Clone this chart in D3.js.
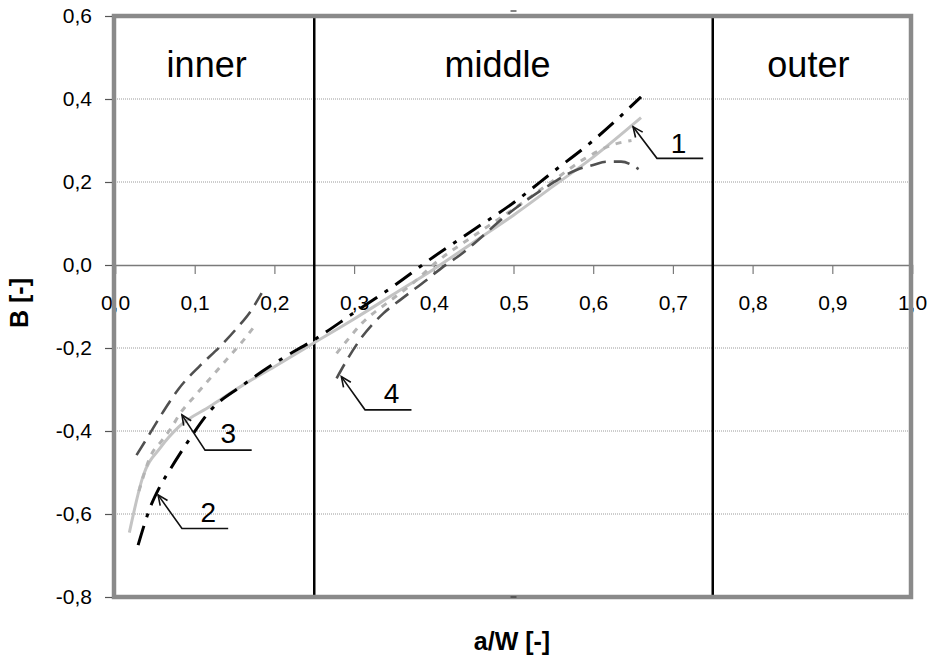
<!DOCTYPE html>
<html><head><meta charset="utf-8">
<script src="https://cdn.jsdelivr.net/npm/d3@7"></script>
<style>
body{margin:0;background:#fff;}
text{font-family:Arial,"Liberation Sans",sans-serif;}
</style>
</head><body>
<svg id="c" width="929" height="660"></svg>
<script>
// ---- data ----
const xTicks = [0,0.1,0.2,0.3,0.4,0.5,0.6,0.7,0.8,0.9,1.0];
const yTicks = [-0.8,-0.6,-0.4,-0.2,0,0.2,0.4,0.6];
const regionNames = ["inner","middle","outer"];
const regionLabelX = [0.115,0.48,0.87];
const regionBounds = [0.25,0.75];

// series 1: light gray solid
const s1x = [0.018,0.035,0.057,0.08,0.12,0.16,0.2,0.245,0.3,0.35,0.4,0.45,0.5,0.55,0.6,0.66];
const s1y = [-0.645,-0.51,-0.44,-0.39,-0.34,-0.29,-0.245,-0.193,-0.13,-0.07,-0.01,0.055,0.12,0.19,0.26,0.355];
// series 2: black dash-dot
const s2x = [0.029,0.045,0.056,0.07,0.09,0.12,0.16,0.21,0.25,0.3,0.35,0.4,0.45,0.5,0.55,0.6,0.66];
const s2y = [-0.675,-0.58,-0.535,-0.49,-0.43,-0.35,-0.29,-0.225,-0.18,-0.115,-0.05,0.02,0.085,0.15,0.225,0.3,0.405];
// series 3: light gray short dash (gap between inner and middle)
const s3x = [0.03,0.046,0.058,0.07,0.082,0.1,0.12,0.14,0.16,0.178,0.23,0.278,0.295,0.31,0.341,0.37,0.404,0.45,0.5,0.554,0.59,0.625,0.648];
const s3y = [-0.545,-0.455,-0.425,-0.394,-0.357,-0.316,-0.272,-0.228,-0.184,-0.14,null,-0.213,-0.173,-0.14,-0.092,-0.05,0.008,0.07,0.135,0.209,0.257,0.29,0.30];
// series 4: dark gray long dash (gap between inner and middle)
const s4x = [0.027,0.04,0.06,0.08,0.107,0.132,0.153,0.17,0.184,0.23,0.278,0.291,0.307,0.337,0.358,0.391,0.412,0.43,0.5,0.542,0.579,0.6,0.617,0.635,0.657];
const s4y = [-0.458,-0.418,-0.355,-0.298,-0.242,-0.196,-0.152,-0.112,-0.068,null,-0.273,-0.229,-0.181,-0.116,-0.084,-0.036,-0.004,0.02,0.133,0.189,0.229,0.241,0.249,0.249,0.231];

// callouts (data coordinates)
const calloutText = ["1","2","3","4"];
const calloutTip = [[0.65,0.333],[0.054,-0.554],[0.084,-0.361],[0.284,-0.269]];
const calloutElbow = [[0.68,0.257],[0.084,-0.635],[0.113,-0.446],[0.3137,-0.349]];
const calloutEndX = [0.738,0.142,0.1715,0.372];
const calloutLabel = [[0.707,0.27],[0.117,-0.619],[0.142,-0.43],[0.347,-0.333]];

// ---- chart ----
const svg = d3.select("#c");
const x = d3.scaleLinear().domain([0,1]).range([115,912]);
const y = d3.scaleLinear().domain([-0.8,0.6]).range([597,16]);
const fmt = d3.formatLocale({decimal:",",thousands:" ",grouping:[3],currency:["",""],minus:"-"}).format(".1f");

// gridlines
svg.append("g").selectAll("line").data(yTicks.filter(v=>v!==0 && v!==0.6 && v!==-0.8)).join("line")
  .attr("x1",x(0)).attr("x2",x(1)).attr("y1",d=>y(d)).attr("y2",d=>y(d))
  .attr("stroke","#9a9a9a").attr("stroke-width",1).attr("stroke-dasharray","1,1");

// x axis at y=0
const xa = svg.append("g").attr("transform",`translate(0,${y(0)})`)
  .call(d3.axisBottom(x).tickValues(xTicks).tickSize(9).tickPadding(21).tickFormat(fmt));
xa.select(".domain").attr("stroke","#7a7a7a").attr("stroke-width",1.5);
xa.selectAll(".tick line").attr("stroke","#7a7a7a").attr("stroke-width",1.2);
xa.selectAll(".tick text").attr("font-size",21).attr("fill","#000").attr("font-family","Arial, Liberation Sans, sans-serif");

// region bounds
svg.append("g").selectAll("line").data(regionBounds).join("line")
  .attr("x1",d=>x(d)).attr("x2",d=>x(d)).attr("y1",y(0.6)).attr("y2",y(-0.8))
  .attr("stroke","#000").attr("stroke-width",2.5);

// region labels
svg.append("g").selectAll("text").data(regionNames).join("text")
  .attr("x",(d,i)=>x(regionLabelX[i])).attr("y",y(0.453))
  .attr("text-anchor","middle").attr("font-size",36).attr("fill","#000").text(d=>d);

// series
const zip = (xs,ys)=>xs.map((v,i)=>[v,ys[i]]);
const line = d3.line().defined(d=>d[1]!==null).x(d=>x(d[0])).y(d=>y(d[1])).curve(d3.curveMonotoneX);
const series = [
  {data:zip(s1x,s1y), color:"#c4c4c4", w:3, dash:null},
  {data:zip(s3x,s3y), color:"#b4b4b4", w:3, dash:"6,7"},
  {data:zip(s4x,s4y), color:"#505050", w:2.6, dash:"16,8"},
  {data:zip(s2x,s2y), color:"#000000", w:3, dash:"20,9,4,9"}
];
svg.append("g").selectAll("path").data(series).join("path")
  .attr("d",d=>line(d.data)).attr("fill","none")
  .attr("stroke",d=>d.color).attr("stroke-width",d=>d.w)
  .attr("stroke-dasharray",d=>d.dash);

// frame
svg.append("rect").attr("x",x(0)-1).attr("y",y(0.6)).attr("width",x(1)-x(0)).attr("height",y(-0.8)-y(0.6))
  .attr("fill","none").attr("stroke","#8a8a8a").attr("stroke-width",4.5);

// top/bottom small marks at 0.5
svg.append("g").selectAll("line").data([y(0.6)-5,y(-0.8)]).join("line")
  .attr("x1",x(0.5)-3).attr("x2",x(0.5)+3).attr("y1",d=>d).attr("y2",d=>d)
  .attr("stroke","#333").attr("stroke-width",1.2);

// y axis
const ya = svg.append("g").attr("transform",`translate(${x(0)-3},0)`)
  .call(d3.axisLeft(y).tickValues(yTicks).tickSize(7).tickPadding(13).tickFormat(fmt));
ya.select(".domain").remove();
ya.selectAll(".tick line").attr("stroke","#555").attr("stroke-width",1.2);
ya.selectAll(".tick text").attr("font-size",21).attr("fill","#000").attr("font-family","Arial, Liberation Sans, sans-serif");

// axis titles
svg.append("text").attr("x",512).attr("y",650).attr("text-anchor","middle")
  .attr("font-size",25).attr("font-weight","bold").text("a/W [-]");
svg.append("text").attr("transform","translate(28,303) rotate(-90)").attr("text-anchor","middle")
  .attr("font-size",25).attr("font-weight","bold").text("B [-]");

// callouts
const cg = svg.append("g");
calloutText.forEach((t,i)=>{
  const tx=x(calloutTip[i][0]), ty=y(calloutTip[i][1]);
  const ex=x(calloutElbow[i][0]), ey=y(calloutElbow[i][1]);
  const fx=x(calloutEndX[i]);
  cg.append("path").attr("d",`M${tx},${ty}L${ex},${ey}L${fx},${ey}`)
    .attr("fill","none").attr("stroke","#111").attr("stroke-width",1.6);
  const ang=Math.atan2(ey-ty,ex-tx), L=11, a=0.42;
  const p1=[tx+L*Math.cos(ang+a),ty+L*Math.sin(ang+a)];
  const p2=[tx+L*Math.cos(ang-a),ty+L*Math.sin(ang-a)];
  cg.append("path").attr("d",`M${p1[0]},${p1[1]}L${tx},${ty}L${p2[0]},${p2[1]}`)
    .attr("fill","none").attr("stroke","#111").attr("stroke-width",1.6);
  cg.append("text").attr("x",x(calloutLabel[i][0])).attr("y",y(calloutLabel[i][1]))
    .attr("text-anchor","middle").attr("font-size",28).attr("fill","#000").text(t);
});
</script>
</body></html>
